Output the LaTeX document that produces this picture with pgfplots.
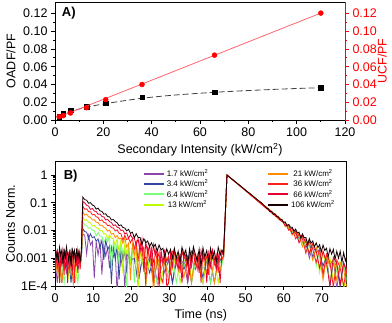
\documentclass[border=0pt]{standalone}
\usepackage{fontspec}
\setmainfont{Liberation Sans}
\usepackage{pgfplots}
\pgfplotsset{compat=1.18}
\definecolor{cA}{RGB}{140,70,170}
\definecolor{cB}{RGB}{50,70,160}
\definecolor{cC}{RGB}{120,255,120}
\definecolor{cD}{RGB}{190,250,0}
\definecolor{cE}{RGB}{255,140,0}
\definecolor{cF}{RGB}{255,30,30}
\definecolor{cG}{RGB}{230,0,50}
\definecolor{cH}{RGB}{20,0,0}
\definecolor{fitred}{RGB}{255,100,110}
\newcommand{\fs}{\fontsize{12.5bp}{14bp}\selectfont}
\begin{document}
\begin{tikzpicture}[x=1bp,y=1bp]
\useasboundingbox (0,0) rectangle (392,323);
\pgfplotsset{every axis/.append style={
  scale only axis, tick align=outside,
  major tick length=4bp, minor tick length=2bp,
  axis line style={line width=0.8bp},
  every tick/.style={line width=0.8bp},
  tick label style={font=\fs},
  label style={font=\fs},
  /pgf/number format/assume math mode=true}}
% ---------------- Panel A ----------------
\begin{axis}[at={(55bp,203bp)}, anchor=south west, width=290bp, height=118bp,
  xmin=0, xmax=120, ymin=0, ymax=0.133,
  xtick={0,20,40,60,80,100,120}, ytick={0,0.02,0.04,0.06,0.08,0.1,0.12},
  minor x tick num=1, minor y tick num=1, tick pos=left,
  yticklabel style={/pgf/number format/.cd, fixed, fixed zerofill, precision=2},
  xlabel={Secondary Intensity (kW/cm\textsuperscript{2})},
  every axis y label/.style={at={(rel axis cs:-0.152,0.5)}, rotate=90, anchor=center, font=\fs},
  ylabel={OADF/PF}]
\addplot[black!75, dashed, line width=0.8bp, dash pattern=on 6bp off 3bp, smooth] coordinates {
 (1.7,0.0045)(3.4,0.0068)(6.4,0.0098)(13,0.0143)(21,0.0185)(36,0.0245)(50,0.0282)(66,0.0312)(80,0.0332)(95,0.0350)(110,0.0364)};
\addplot[only marks, mark=square*, mark size=2.3bp, black] coordinates {
 (1.7,0.0040)(3.4,0.0071)(6.4,0.0109)(13,0.0150)(21,0.0190)(36,0.0255)(66,0.0315)(110,0.0364)};
\node[anchor=west, font=\bfseries\fontsize{13bp}{14bp}\selectfont] at (rel axis cs:0.012,0.905) {A)};
\end{axis}
\begin{axis}[at={(55bp,203bp)}, anchor=south west, width=290bp, height=118bp,
  xmin=0, xmax=120, ymin=0, ymax=0.133,
  axis x line=none, axis y line*=right,
  ytick={0,0.02,0.04,0.06,0.08,0.1,0.12}, minor y tick num=1,
  y axis line style={red}, every tick/.style={red, line width=0.8bp},
  yticklabel style={red, /pgf/number format/.cd, fixed, fixed zerofill, precision=2},
  every axis y label/.style={at={(rel axis cs:1.128,0.5)}, rotate=90, anchor=center, red, font=\fs},
  ylabel={UCF/PF}]
\addplot[fitred, line width=0.8bp] coordinates {(1.7,0.0035)(110,0.1205)};
\addplot[only marks, mark=*, mark size=2.5bp, red] coordinates {
 (1.7,0.0037)(3.4,0.0049)(6.4,0.0079)(13,0.0139)(21,0.0229)(36,0.0400)(66,0.0731)(110,0.1205)};
\end{axis}
% ---------------- Panel B ----------------
\begin{axis}[at={(55bp,37bp)}, anchor=south west, width=291.7bp, height=125bp,
  xmin=0, xmax=76.5, ymode=log, ymin=1e-4, ymax=3.2,
  xtick={0,10,20,30,40,50,60,70}, minor x tick num=1, tick pos=left,
  ytick={1e-4,1e-3,1e-2,1e-1,1}, yticklabels={1E-4,0.001,0.01,0.1,1},
  xlabel={Time (ns)},
  every axis y label/.style={at={(rel axis cs:-0.152,0.5)}, rotate=90, anchor=center, font=\fs},
  ylabel={Counts Norm.},
  every axis plot/.append style={line width=0.8bp},
  legend columns=4, transpose legend,
  legend image code/.code={\draw[#1, line width=2bp] (0bp,0bp) -- (20bp,0bp);},
  legend style={draw=none, fill=none, at={(rel axis cs:0.29,0.965)}, anchor=north west,
    font=\fontsize{8bp}{9bp}\selectfont, row sep=-1.8bp,
    /tikz/every even column/.append style={column sep=57bp}}]
% 1.7
\addplot[cA] coordinates {
(0,0.0009)(0.6,0.00013)(1.2,0.001)(1.8,0.0006)(2.4,0.0011)(3.0,0.0003)(3.6,0.0008)(4.2,0.001)(4.8,0.00013)(5.4,0.0007)(6.0,0.0011)(6.6,0.0005)(6.9,0.001)
(7.3,0.0075)(7.8,0.0067)(8.3,0.0014)(8.8,0.0066)(9.3,0.003)(9.8,0.0041)(10.3,0.00019)(10.8,0.004)(11.3,0.0013)(11.8,0.0038)(12.3,0.00026)(12.8,0.003)(13.3,0.0012)(13.8,0.0024)(14.3,0.00043)(14.8,0.0025)(15.3,0.0011)(15.8,0.0016)(16.3,0.00005)(16.8,0.0018)(17.3,0.00056)(17.8,0.0019)(18.3,0.00008)(18.8,0.0015)
(19.8,0.0008)(20.8,0.001)(21.8,0.00013)(22.8,0.0009)(23.8,0.0005)(24.8,0.0011)(25.8,0.00013)(26.8,0.0007)(27.8,0.001)(28.8,0.0003)(29.8,0.0009)(30.8,0.00013)(31.8,0.0012)(32.8,0.0006)(33.8,0.0008)(34.8,0.00013)(35.8,0.001)(36.8,0.0004)(37.8,0.0011)(38.8,0.00013)(39.8,0.0009)(40.8,0.0007)(41.8,0.00013)(42.8,0.001)(43.8,0.0008)
(44.2,0.001)(45.1,1)
(59.5,0.0234)(60.4,0.0179)(61.3,0.0126)(62.2,0.0095)(63.1,0.0099)(64.0,0.0053)(64.9,0.0037)(65.8,0.0048)(66.7,0.001)(67.6,0.0027)(68.5,0.0016)(69.4,0.0021)(70.3,0.00026)(71.2,0.001)(72.1,0.0006)(73.0,0.0009)(73.9,0.00008)(74.8,0.0006)(75.7,0.00042)(76.6,0.00026)};
\addlegendentry{1.7 kW/cm\textsuperscript{2}}
% 3.4
\addplot[cB] coordinates {
(0,0.0006)(0.6,0.0011)(1.2,0.0008)(1.8,0.00013)(2.4,0.0012)(3.0,0.0005)(3.6,0.001)(4.2,0.00013)(4.8,0.0009)(5.4,0.0012)(6.0,0.0004)(6.6,0.0008)(6.9,0.0009)
(7.3,0.0116)(7.8,0.0092)(8.3,0.0087)(8.8,0.0051)(9.3,0.0076)(9.8,0.0055)(10.3,0.006)(10.8,0.0041)(11.3,0.005)(11.8,0.0024)(12.3,0.0044)(12.8,0.00088)(13.3,0.0045)(13.8,0.002)(14.3,0.0028)(14.8,0.00012)(15.3,0.0028)(15.8,0.0009)(16.3,0.0028)(16.8,0.00017)(17.3,0.0022)(17.8,0.0009)(18.3,0.0018)(18.8,0.0003)(19.3,0.0019)(19.8,0.00087)
(20.8,0.001)(21.8,0.00013)(22.8,0.0008)(23.8,0.0011)(24.8,0.0003)(25.8,0.0009)(26.8,0.00013)(27.8,0.0012)(28.8,0.0006)(29.8,0.001)(30.8,0.00013)(31.8,0.0007)(32.8,0.0011)(33.8,0.0004)(34.8,0.0009)(35.8,0.00013)(36.8,0.001)(37.8,0.0008)(38.8,0.0002)(39.8,0.0011)(40.8,0.00013)(41.8,0.0009)(42.8,0.0007)(43.8,0.001)
(44.2,0.001)(45.1,1)
(59.5,0.0221)(60.4,0.0168)(61.3,0.0109)(62.2,0.0122)(63.1,0.0077)(64.0,0.0049)(64.9,0.0058)(65.8,0.0024)(66.7,0.0038)(67.6,0.0011)(68.5,0.0021)(69.4,0.0015)(70.3,0.00052)(71.2,0.0013)(72.1,0.0001)(73.0,0.00072)(73.9,0.00056)(74.8,0.00009)(75.7,0.0007)(76.6,0.00033)};
\addlegendentry{3.4 kW/cm\textsuperscript{2}}
% 6.4
\addplot[cC] coordinates {
(0,0.001)(0.6,0.0004)(1.2,0.0012)(1.8,0.0007)(2.4,0.00013)(3.0,0.0011)(3.6,0.0009)(4.2,0.0003)(4.8,0.0013)(5.4,0.0006)(6.0,0.00013)(6.6,0.001)(6.9,0.001)
(7.3,0.0196)(7.8,0.0158)(8.3,0.0152)(8.8,0.0122)(9.3,0.0126)(9.8,0.0102)(10.3,0.0098)(10.8,0.0064)(11.3,0.0086)(11.8,0.0064)(12.3,0.0062)(12.8,0.0036)(13.3,0.0055)(13.8,0.0039)(14.3,0.0056)(14.8,0.0004)(15.3,0.0043)(15.8,0.0017)(16.3,0.0033)(16.8,0.00063)(17.3,0.0034)(17.8,0.0015)(18.3,0.0022)(18.8,0.00008)(19.3,0.0023)(19.8,0.00073)(20.3,0.0023)(20.8,0.00013)(21.3,0.0018)(21.8,0.00074)
(22.8,0.0009)(23.8,0.0002)(24.8,0.0011)(25.8,0.0006)(26.8,0.00013)(27.8,0.001)(28.8,0.0008)(29.8,0.0003)(30.8,0.0012)(31.8,0.00013)(32.8,0.0009)(33.8,0.0005)(34.8,0.0011)(35.8,0.00013)(36.8,0.0007)(37.8,0.001)(38.8,0.0004)(39.8,0.0012)(40.8,0.00013)(41.8,0.0008)(42.8,0.001)(43.8,0.0006)
(44.2,0.001)(45.1,1)
(59.5,0.0234)(60.4,0.0158)(61.3,0.0151)(62.2,0.0082)(63.1,0.0088)(64.0,0.0045)(64.9,0.0062)(65.8,0.0018)(66.7,0.0033)(67.6,0.0029)(68.5,0.00053)(69.4,0.0018)(70.3,0.0012)(71.2,0.00069)(72.1,0.00014)(73.0,0.0009)(73.9,0.00032)(74.8,0.0006)(75.7,0.00063)(76.6,0.00013)};
\addlegendentry{6.4 kW/cm\textsuperscript{2}}
% 13
\addplot[cD] coordinates {
(0,0.0008)(0.6,0.0014)(1.2,0.00013)(1.8,0.001)(2.4,0.0005)(3.0,0.0013)(3.6,0.0002)(4.2,0.0012)(4.8,0.0009)(5.4,0.00013)(6.0,0.0011)(6.6,0.0007)(6.9,0.0011)
(7.3,0.0306)(7.8,0.0233)(8.3,0.0244)(8.8,0.0201)(9.3,0.0187)(9.8,0.0145)(10.3,0.0156)(10.8,0.0127)(11.3,0.0121)(11.8,0.0098)(12.3,0.0101)(12.8,0.0075)(13.3,0.0079)(13.8,0.0051)(14.3,0.0069)(14.8,0.0052)(15.3,0.005)(15.8,0.0029)(16.3,0.005)(16.8,0.0017)(17.3,0.0047)(17.8,0.0003)(18.3,0.0036)(18.8,0.0015)(19.3,0.0028)(19.8,0.00053)(20.3,0.0029)(20.8,0.0013)(21.3,0.0019)(21.8,0.00007)(22.3,0.002)(22.8,0.00064)(23.3,0.0021)(23.8,0.0001)
(24.8,0.001)(25.8,0.0003)(26.8,0.0012)(27.8,0.00013)(28.8,0.0009)(29.8,0.0011)(30.8,0.0004)(31.8,0.0013)(32.8,0.00013)(33.8,0.0008)(34.8,0.001)(35.8,0.0002)(36.8,0.0012)(37.8,0.0006)(38.8,0.00013)(39.8,0.0011)(40.8,0.0007)(41.8,0.001)(42.8,0.00013)(43.8,0.0009)
(44.2,0.001)(45.1,1)
(59.5,0.0221)(60.4,0.0189)(61.3,0.0118)(62.2,0.0109)(63.1,0.0066)(64.0,0.008)(64.9,0.0033)(65.8,0.0042)(66.7,0.0015)(67.6,0.0032)(68.5,0.0019)(69.4,0.0003)(70.3,0.0017)(71.2,0.00046)(72.1,0.0011)(73.0,0.00014)(73.9,0.00064)(74.8,0.00075)(75.7,0.00007)(76.6,0.00046)};
\addlegendentry{13 kW/cm\textsuperscript{2}}
% 21
\addplot[cE] coordinates {
(0,0.0012)(0.6,0.0003)(1.2,0.0015)(1.8,0.00013)(2.4,0.0009)(3.0,0.0013)(3.6,0.0004)(4.2,0.0011)(4.8,0.00013)(5.4,0.0014)(6.0,0.0006)(6.6,0.001)(6.9,0.0012)
(7.3,0.0486)(7.8,0.0357)(8.3,0.0387)(8.8,0.0312)(9.3,0.03)(9.8,0.0238)(10.3,0.0246)(10.8,0.02)(11.3,0.0193)(11.8,0.0151)(12.3,0.0158)(12.8,0.013)(13.3,0.0121)(13.8,0.0095)(14.3,0.0104)(14.8,0.0073)(15.3,0.008)(15.8,0.0055)(16.3,0.0066)(16.8,0.0049)(17.3,0.0053)(17.8,0.0034)(18.3,0.0057)(18.8,0.0025)(19.3,0.0035)(19.8,0.00016)(20.3,0.0035)(20.8,0.0012)(21.3,0.0034)(21.8,0.00022)(22.3,0.0027)(22.8,0.0011)(23.3,0.0021)(23.8,0.00038)(24.3,0.0023)(24.8,0.001)(25.3,0.0015)(25.8,0.00006)
(26.8,0.0012)(27.8,0.0004)(28.8,0.001)(29.8,0.00013)(30.8,0.0013)(31.8,0.0007)(32.8,0.0009)(33.8,0.0002)(34.8,0.0011)(35.8,0.00013)(36.8,0.0014)(37.8,0.0005)(38.8,0.001)(39.8,0.0003)(40.8,0.0012)(41.8,0.00013)(42.8,0.0008)(43.8,0.0011)
(44.2,0.0011)(45.1,1)
(59.5,0.0247)(60.4,0.0137)(61.3,0.0143)(62.2,0.0068)(63.1,0.0099)(64.0,0.0062)(64.9,0.0026)(65.8,0.0051)(66.7,0.003)(67.6,0.00084)(68.5,0.0025)(69.4,0.0012)(70.3,0.00016)(71.2,0.0012)(72.1,0.0005)(73.0,0.0009)(73.9,0.00016)(74.8,0.00068)(75.7,0.00042)(76.6,0.00007)};
\addlegendentry{21 kW/cm\textsuperscript{2}}
% 36
\addplot[cF] coordinates {
(0,0.002)(0.3,0.001)(0.6,0.0004)(0.9,0.0015)(1.2,0.00013)(1.5,0.0017)(1.8,0.0008)(2.1,0.0012)(2.4,0.00025)(2.7,0.0018)(3.0,0.0016)(3.3,0.0006)(3.6,0.0013)(3.9,0.0003)(4.2,0.0019)(4.5,0.0009)(4.8,0.0014)(5.1,0.00013)(5.4,0.0015)(5.7,0.0005)(6.0,0.002)(6.3,0.001)(6.6,0.0004)(6.9,0.0014)
(7.3,0.0756)(7.8,0.058)(8.3,0.0602)(8.8,0.0484)(9.3,0.047)(9.8,0.0365)(10.3,0.0382)(10.8,0.0314)(11.3,0.0293)(11.8,0.0224)(12.3,0.0243)(12.8,0.0197)(13.3,0.0188)(13.8,0.015)(14.3,0.0156)(14.8,0.0127)(15.3,0.0123)(15.8,0.0096)(16.3,0.0106)(16.8,0.0079)(17.3,0.0076)(17.8,0.0045)(18.3,0.0067)(18.8,0.0047)(19.3,0.0052)(19.8,0.0036)(20.3,0.0052)(20.8,0.0021)(21.3,0.0039)(21.8,0.00078)(22.3,0.004)(22.8,0.0018)(23.3,0.0025)(23.8,0.0001)(24.3,0.0026)(24.8,0.00082)(25.3,0.0026)(25.8,0.00016)(26.3,0.002)(26.8,0.00082)(27.3,0.0017)(27.8,0.0002)
(28.3,0.00013)(28.8,0.0017)(29.3,0.0008)(29.8,0.0012)(30.3,0.00025)(30.8,0.0018)(31.3,0.0016)(31.8,0.0006)(32.3,0.0013)(32.8,0.0003)(33.3,0.0019)(33.8,0.0009)(34.3,0.0014)(34.8,0.00013)(35.3,0.0015)(35.8,0.0005)(36.3,0.002)(36.8,0.001)(37.3,0.0004)(37.8,0.0015)(38.3,0.00013)(38.8,0.0017)(39.3,0.0008)(39.8,0.0012)(40.3,0.00025)(40.8,0.0018)(41.3,0.0016)(41.8,0.0006)(42.3,0.0013)(42.8,0.0003)(43.3,0.0019)(43.8,0.0009)
(44.2,0.0012)(45.1,1)
(59.5,0.0208)(60.4,0.02)(61.3,0.0101)(62.2,0.0122)(63.1,0.005)(64.0,0.0076)(64.9,0.0051)(65.8,0.0015)(66.7,0.0045)(67.6,0.0021)(68.5,0.0007)(69.4,0.0023)(70.3,0.00026)(71.2,0.0014)(72.1,0.0007)(73.0,0.00009)(73.9,0.00088)(74.8,0.00045)(75.7,0.0001)(76.6,0.00059)};
\addlegendentry{36 kW/cm\textsuperscript{2}}
% 66
\addplot[cG] coordinates {
(0,0.0003)(0.3,0.0019)(0.6,0.0009)(0.9,0.0014)(1.2,0.00013)(1.5,0.0015)(1.8,0.0005)(2.1,0.002)(2.4,0.001)(2.7,0.0004)(3.0,0.0015)(3.3,0.00013)(3.6,0.0017)(3.9,0.0008)(4.2,0.0012)(4.5,0.00025)(4.8,0.0018)(5.1,0.0016)(5.4,0.0006)(5.7,0.0013)(6.0,0.0003)(6.3,0.0019)(6.6,0.0009)(6.9,0.0013)
(7.3,0.1106)(7.8,0.0986)(8.3,0.0809)(8.8,0.0754)(9.3,0.0575)(9.8,0.0624)(10.3,0.0502)(10.8,0.0483)(11.3,0.0383)(11.8,0.0396)(12.3,0.0319)(12.8,0.031)(13.3,0.024)(13.8,0.0252)(14.3,0.0208)(14.8,0.0194)(15.3,0.0149)(15.8,0.0161)(16.3,0.0131)(16.8,0.0125)(17.3,0.01)(17.8,0.0104)(18.3,0.0076)(18.8,0.0082)(19.3,0.0052)(19.8,0.0071)(20.3,0.0053)(20.8,0.0052)(21.3,0.003)(21.8,0.0051)(22.3,0.0017)(22.8,0.0048)(23.3,0.00033)(23.8,0.0038)(24.3,0.0015)(24.8,0.0029)(25.3,0.00053)(25.8,0.003)(26.3,0.0013)(26.8,0.0019)(27.3,0.00008)(27.8,0.002)(28.3,0.00065)(28.8,0.0021)(29.3,0.0001)
(29.8,0.00013)(30.3,0.0015)(30.8,0.0005)(31.3,0.002)(31.8,0.001)(32.3,0.0004)(32.8,0.0015)(33.3,0.00013)(33.8,0.0017)(34.3,0.0008)(34.8,0.0012)(35.3,0.00025)(35.8,0.0018)(36.3,0.0016)(36.8,0.0006)(37.3,0.0013)(37.8,0.0003)(38.3,0.0019)(38.8,0.0009)(39.3,0.0014)(39.8,0.00013)(40.3,0.0015)(40.8,0.0005)(41.3,0.002)(41.8,0.001)(42.3,0.0004)(42.8,0.0015)(43.3,0.00013)(43.8,0.0017)
(44.2,0.0013)(45.1,1)
(59.5,0.0234)(60.4,0.0147)(61.3,0.016)(62.2,0.0075)(63.1,0.0094)(64.0,0.0036)(64.9,0.0066)(65.8,0.0036)(66.7,0.0015)(67.6,0.0034)(68.5,0.0018)(69.4,0.00045)(70.3,0.0018)(71.2,0.00069)(72.1,0.0001)(73.0,0.0011)(73.9,0.00064)(74.8,0.00012)(75.7,0.0007)(76.6,0.00026)};
\addlegendentry{66 kW/cm\textsuperscript{2}}
% 106
\addplot[cH] coordinates {
(0,0.0023)(0.3,0.001)(0.6,0.0018)(0.9,0.0007)(1.2,0.0025)(1.5,0.0013)(1.8,0.002)(2.1,0.0006)(2.4,0.0022)(2.7,0.0009)(3.0,0.0026)(3.3,0.0014)(3.6,0.0008)(3.9,0.0021)(4.2,0.0005)(4.5,0.0024)(4.8,0.0011)(5.1,0.0019)(5.4,0.0007)(5.7,0.0023)(6.0,0.001)(6.3,0.0018)(6.6,0.0007)(6.9,0.002)
(7.3,0.16)(7.8,0.129)(8.3,0.124)(8.8,0.096)(9.3,0.101)(9.8,0.083)(10.3,0.077)(10.8,0.059)(11.3,0.064)(11.8,0.051)(12.3,0.049)(12.8,0.039)(13.3,0.04)(13.8,0.032)(14.3,0.031)(14.8,0.024)(15.3,0.025)(15.8,0.021)(16.3,0.019)(16.8,0.015)(17.3,0.016)(17.8,0.0129)(18.3,0.0123)(18.8,0.0097)(19.3,0.011)(19.8,0.0079)(20.3,0.0087)(20.8,0.0054)(21.3,0.0077)(21.8,0.0056)(22.3,0.0056)(22.8,0.0031)(23.3,0.0051)(23.8,0.0036)(24.3,0.0042)(24.8,0.0026)(25.3,0.0036)(25.8,0.0025)(26.3,0.0032)(26.8,0.0018)(27.3,0.003)(27.8,0.002)(28.3,0.0023)(28.8,0.0011)(29.3,0.0022)(29.8,0.0014)(30.3,0.0021)(30.8,0.001)
(31.3,0.0023)(31.8,0.001)(32.3,0.0018)(32.8,0.0007)(33.3,0.0025)(33.8,0.0013)(34.3,0.002)(34.8,0.0006)(35.3,0.0022)(35.8,0.0009)(36.3,0.0026)(36.8,0.0014)(37.3,0.0008)(37.8,0.0021)(38.3,0.0005)(38.8,0.0024)(39.3,0.0011)(39.8,0.0019)(40.3,0.0007)(40.8,0.0023)(41.3,0.001)(41.8,0.0018)(42.3,0.0007)(42.8,0.0025)(43.3,0.0013)(43.8,0.002)
(44.2,0.0015)(45.1,1.0)(46.0,0.79)(46.9,0.63)(47.8,0.50)(48.7,0.40)(49.6,0.315)(50.5,0.25)(51.4,0.20)(52.3,0.158)(53.2,0.125)(54.1,0.10)(55.0,0.076)(55.45,0.064)(55.9,0.062)(56.35,0.049)(56.8,0.049)(57.25,0.038)(57.7,0.040)(58.15,0.032)(58.6,0.031)(59.05,0.024)(59.5,0.025)(59.95,0.0197)(60.4,0.0202)(60.85,0.015)(61.3,0.0166)(61.75,0.0132)(62.2,0.0132)(62.65,0.0095)(63.1,0.0113)(63.55,0.0082)(64.0,0.0087)(64.45,0.0054)(64.9,0.0076)(65.35,0.0055)(65.8,0.0056)(66.25,0.0031)(66.7,0.0051)(67.15,0.0035)(67.6,0.0042)(68.05,0.0026)(68.5,0.0036)(68.95,0.0024)(69.4,0.0031)(69.85,0.0017)(70.3,0.003)(70.75,0.0019)(71.2,0.0023)(71.65,0.0011)(72.1,0.0022)(72.55,0.0014)(73.0,0.0021)(73.45,0.0009)(73.9,0.0018)(74.35,0.001)(74.8,0.0018)(75.25,0.0007)(75.7,0.0016)(76.15,0.0008)(76.6,0.0013)};
\addlegendentry{106 kW/cm\textsuperscript{2}}
\node[anchor=west, font=\bfseries\fontsize{13bp}{14bp}\selectfont] at (rel axis cs:0.018,0.875) {B)};
\end{axis}
\end{tikzpicture}
\end{document}
